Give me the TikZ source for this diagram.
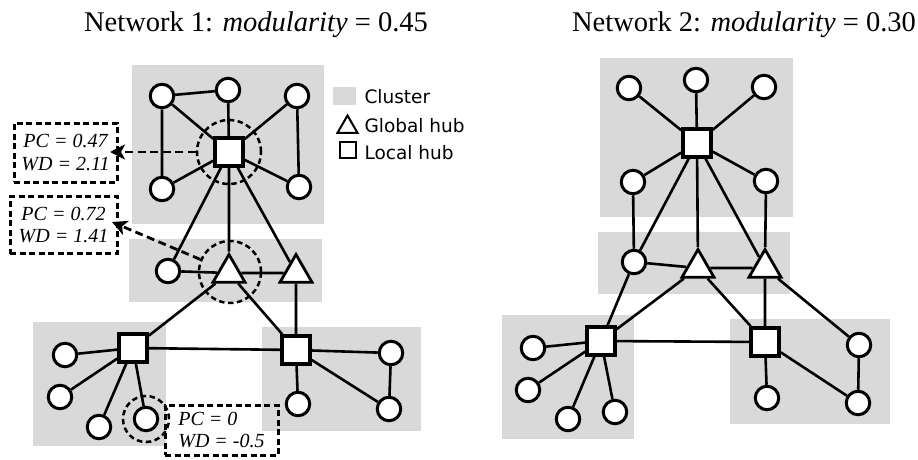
\documentclass[tikz,border=0pt]{standalone}
\usepackage{fontspec}
\setmainfont{Liberation Serif}
\newfontfamily\legfont{DejaVu Sans}
\usetikzlibrary{shapes.geometric,arrows.meta}
\definecolor{clgray}{RGB}{217,217,217}
\pgfdeclarelayer{bgl}\pgfdeclarelayer{edgel}\pgfsetlayers{bgl,edgel,main}
\begin{document}
\begin{tikzpicture}[x=1pt,y=-1pt,
  nd/.style={circle,draw,line width=3pt,fill=white,minimum size=23.5pt,inner sep=0pt},
  lhub/.style={rectangle,draw,line width=4pt,fill=white,minimum size=27.5pt,inner sep=0pt},
  ghub/.style={regular polygon,regular polygon sides=3,draw,line width=2.8pt,fill=white,minimum size=37pt,inner sep=0pt},
  edge/.style={line width=2.6pt},
  clus/.style={fill=clgray},
  dcirc/.style={circle,draw,line width=2.5pt,dash pattern=on 5.5pt off 3.5pt,inner sep=0pt},
  lbox/.style={draw,line width=3pt,dash pattern=on 6pt off 3.5pt,inner sep=2pt,font=\fontsize{20}{22.5}\selectfont\itshape},
  arr/.style={line width=2.8pt,dash pattern=on 8pt off 4.5pt,-{Stealth[length=15pt,width=15pt,inset=4pt]}},
  ttl/.style={anchor=base,font=\fontsize{28.5}{31}\selectfont},
  leg/.style={anchor=base west,font=\legfont\fontsize{18.5}{20}\selectfont},
]
\useasboundingbox (0,0) rectangle (918,460);

% titles
\node[ttl] (t1) at (256,32) {Network 1: \textit{modularity} = 0.45};
\node[ttl] (t2) at (744,32) {Network 2: \textit{modularity} = 0.30};

% clusters
\begin{pgfonlayer}{bgl}
\fill[clus] (132,65) rectangle (324,224);
\fill[clus] (129,239) rectangle (322,302);
\fill[clus] (33,322) rectangle (166,446);
\fill[clus] (262,327) rectangle (421,431);
\fill[clus] (600,58) rectangle (793,217);
\fill[clus] (598,232) rectangle (790,294);
\fill[clus] (502,315) rectangle (634,439);
\fill[clus] (730,319) rectangle (890,424);
\end{pgfonlayer}

% legend
\node[fill=clgray,minimum width=23pt,minimum height=18pt,inner sep=0pt] (lg1) at (344.5,96) {};
\node[regular polygon,regular polygon sides=3,draw,line width=2pt,minimum size=23pt,inner sep=0pt] (lg2) at (347.5,127) {};
\node[rectangle,draw,line width=2pt,minimum size=16pt,inner sep=0pt] (lg3) at (347.5,150) {};
\node[leg] (lt1) at (361,103) {Cluster};
\node[leg] (lt2) at (361,132) {Global hub};
\node[leg] (lt3) at (361,159) {Local hub};

% Network 1 nodes
\node[nd] (A) at (162,96) {};
\node[nd] (B) at (228,90) {};
\node[nd] (C) at (297,96) {};
\node[nd] (D) at (162,189) {};
\node[nd] (E) at (299,187) {};
\node[lhub] (H1) at (229,152) {};
\node[nd] (F) at (168,271) {};
\node[ghub] (T1) at (229,273) {};
\node[ghub] (T2) at (296,273) {};
\node[lhub] (LS) at (133,348) {};
\node[nd] (G) at (65,355) {};
\node[nd] (Hc) at (60,397) {};
\node[nd] (I) at (99,427) {};
\node[nd] (J) at (146,419) {};
\node[lhub] (RS) at (296,350) {};
\node[nd] (K) at (391,353) {};
\node[nd] (L) at (389,409) {};
\node[nd] (M) at (298,404) {};

% Network 2 nodes
\node[nd] (a) at (629,88) {};
\node[nd] (b) at (696,80) {};
\node[nd] (c) at (764,87) {};
\node[lhub] (S) at (697,143) {};
\node[nd] (d) at (633,182) {};
\node[nd] (e) at (766,181) {};
\node[nd] (f) at (634,262) {};
\node[ghub] (U1) at (698,268) {};
\node[ghub] (U2) at (765,268) {};
\node[lhub] (LS2) at (601,341) {};
\node[nd] (g) at (533,348) {};
\node[nd] (h) at (528,390) {};
\node[nd] (i) at (568,419) {};
\node[nd] (j) at (615,412) {};
\node[lhub] (RS2) at (765,342) {};
\node[nd] (K2) at (859,345) {};
\node[nd] (L2) at (858,403) {};
\node[nd] (M2) at (767,398) {};

% edges
\begin{pgfonlayer}{edgel}
\draw[edge] (A)--(B) (A)--(D) (A)--(H1) (B)--(H1) (C)--(H1) (C)--(E) (D)--(H1) (E)--(H1)
  (H1)--(F) (H1)--(T1) (H1)--(T2) (F)--(T1) (T1)--(T2)
  (T1)--(LS) (T1)--(RS) (T2)--(RS)
  (LS)--(G) (LS)--(Hc) (LS)--(I) (LS)--(J) (LS)--(RS)
  (RS)--(K) (RS)--(L) (RS)--(M) (K)--(L);
\draw[edge] (a)--(S) (b)--(S) (c)--(S) (d)--(S) (e)--(S)
  (S)--(f) (S)--(U1) (S)--(U2) (d)--(f) (e)--(U2) (f)--(U1) (U1)--(U2)
  (f)--(LS2) (U1)--(LS2) (U1)--(RS2) (U2)--(RS2) (U2)--(K2)
  (LS2)--(g) (LS2)--(h) (LS2)--(i) (LS2)--(j) (LS2)--(RS2)
  (RS2)--(M2) (RS2)--(L2) (K2)--(L2);
\end{pgfonlayer}

% dashed circles
\node[dcirc,minimum size=64pt] (dc1) at (229,152) {};
\node[dcirc,minimum size=62pt] (dc2) at (230,272) {};
\node[dcirc,minimum size=46pt] (dc3) at (146,419) {};

% label boxes
\node[lbox,minimum width=103pt,minimum height=59pt,align=center] (lab1) at (65.5,152.5) {PC = 0.47\\WD = 2.11};
\node[lbox,minimum width=107pt,minimum height=57pt,align=center] (lab2) at (63.5,225) {PC = 0.72\\WD = 1.41};
\node[lbox,minimum width=113pt,minimum height=50pt,align=left] (lab3) at (221.5,430) {PC = 0\\WD = -0.5};

% arrows
\coordinate (tip1) at (110,152);
\coordinate (tip2) at (112,222);
\draw[arr] (dc1.west) -- (tip1);
\draw[arr] (dc2) -- (tip2);
\end{tikzpicture}
\end{document}
